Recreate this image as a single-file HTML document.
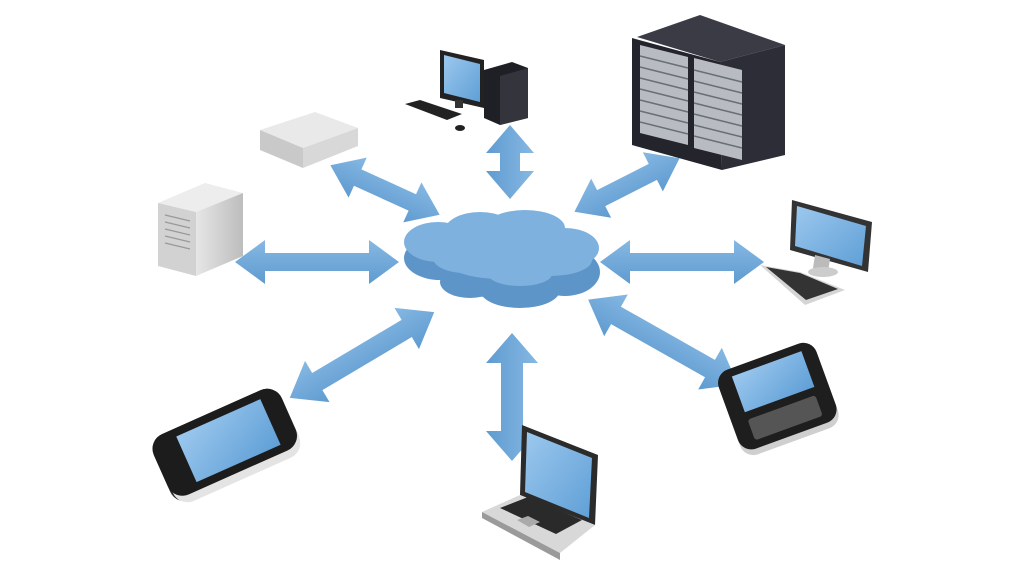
<!DOCTYPE html>
<html><head><meta charset="utf-8"><style>html,body{margin:0;padding:0;background:#fff}svg{display:block}</style></head>
<body>
<svg width="1024" height="576" viewBox="0 0 1024 576" xmlns="http://www.w3.org/2000/svg">
<defs>
<linearGradient id="ar" x1="0" y1="0" x2="0" y2="1"><stop offset="0" stop-color="#86b8e3"/><stop offset="1" stop-color="#5f9bd0"/></linearGradient>
<linearGradient id="scr" x1="0" y1="0" x2="1" y2="1"><stop offset="0" stop-color="#9cc8ee"/><stop offset="1" stop-color="#5f9fd6"/></linearGradient>
<linearGradient id="wh" x1="0" y1="0" x2="1" y2="0"><stop offset="0" stop-color="#e6e6e6"/><stop offset="1" stop-color="#bdbdbd"/></linearGradient>
</defs>
<rect width="1024" height="576" fill="#fff"/>
<g fill="url(#ar)">
<g transform="translate(510,162) rotate(90)"><path d="M-37,0 L-9,-24 L-9,-10 L9,-10 L9,-24 L37,0 L9,24 L9,10 L-9,10 L-9,24 Z"/></g>
<g transform="translate(385,190) rotate(24.4)"><path d="M-60,0 L-30,-22 L-30,-9 L30,-9 L30,-22 L60,0 L30,22 L30,9 L-30,9 L-30,22 Z"/></g>
<g transform="translate(317,262)"><path d="M-82,0 L-52,-22 L-52,-9 L52,-9 L52,-22 L82,0 L52,22 L52,9 L-52,9 L-52,22 Z"/></g>
<g transform="translate(627,185) rotate(-27)"><path d="M-59,0 L-29,-22 L-29,-9 L29,-9 L29,-22 L59,0 L29,22 L29,9 L-29,9 L-29,22 Z"/></g>
<g transform="translate(682,262)"><path d="M-82,0 L-52,-22 L-52,-9 L52,-9 L52,-22 L82,0 L52,22 L52,9 L-52,9 L-52,22 Z"/></g>
<g transform="translate(362,355) rotate(-30.7)"><path d="M-84,0 L-52,-24 L-52,-10 L52,-10 L52,-24 L84,0 L52,24 L52,10 L-52,10 L-52,24 Z"/></g>
<g transform="translate(512,397) rotate(90)"><path d="M-64,0 L-34,-26 L-34,-11 L34,-11 L34,-26 L64,0 L34,26 L34,11 L-34,11 L-34,26 Z"/></g>
<g transform="translate(663,342) rotate(29.5)"><path d="M-86,0 L-54,-24 L-54,-10 L54,-10 L54,-24 L86,0 L54,24 L54,10 L-54,10 L-54,24 Z"/></g>
</g>
<!-- cloud -->
<g fill="#5d95c8">
<ellipse cx="440" cy="258" rx="36" ry="22"/><ellipse cx="500" cy="268" rx="60" ry="30"/><ellipse cx="565" cy="272" rx="35" ry="24"/><ellipse cx="520" cy="290" rx="40" ry="18"/><ellipse cx="470" cy="282" rx="30" ry="16"/>
</g>
<g fill="#7fb1df">
<ellipse cx="438" cy="242" rx="34" ry="20"/><ellipse cx="480" cy="232" rx="36" ry="20"/><ellipse cx="525" cy="228" rx="40" ry="18"/><ellipse cx="565" cy="248" rx="34" ry="20"/><ellipse cx="500" cy="255" rx="60" ry="24"/><ellipse cx="550" cy="260" rx="42" ry="16"/><ellipse cx="465" cy="258" rx="32" ry="15"/><ellipse cx="520" cy="274" rx="32" ry="12"/>
</g>
<!-- server rack -->
<polygon points="637,37 700,15 785,45 720,62" fill="#3a3b45"/>
<polygon points="632,38 720,62 722,170 632,145" fill="#23242c"/>
<polygon points="720,62 785,45 785,155 722,170" fill="#2c2d36"/>
<polygon points="640,45 688,57 688,145 640,133" fill="#b8bcc2"/>
<polygon points="694,58 742,70 742,160 694,148" fill="#b8bcc2"/>
<g stroke="#6a6e75" stroke-width="1.5">
<line x1="640" y1="56" x2="688" y2="68"/><line x1="640" y1="67" x2="688" y2="79"/><line x1="640" y1="78" x2="688" y2="90"/><line x1="640" y1="89" x2="688" y2="101"/><line x1="640" y1="100" x2="688" y2="112"/><line x1="640" y1="111" x2="688" y2="123"/><line x1="640" y1="122" x2="688" y2="134"/>
<line x1="694" y1="70" x2="742" y2="82"/><line x1="694" y1="81" x2="742" y2="93"/><line x1="694" y1="92" x2="742" y2="104"/><line x1="694" y1="103" x2="742" y2="115"/><line x1="694" y1="114" x2="742" y2="126"/><line x1="694" y1="125" x2="742" y2="137"/><line x1="694" y1="136" x2="742" y2="148"/>
</g>
<!-- PC top -->
<polygon points="440,50 484,60 484,108 440,98" fill="#222"/>
<polygon points="444,55 480,64 480,102 444,93" fill="url(#scr)"/>
<rect x="455" y="100" width="8" height="8" fill="#333"/>
<polygon points="484,70 512,62 528,68 528,118 500,125 484,118" fill="#1f2026"/>
<polygon points="500,76 528,68 528,118 500,125" fill="#33343c"/>
<polygon points="405,104 420,100 462,114 447,120" fill="#222"/>
<ellipse cx="460" cy="128" rx="5" ry="3" fill="#222"/>
<!-- white box -->
<polygon points="260,130 315,112 358,128 303,148" fill="#e9e9e9"/>
<polygon points="260,130 303,148 303,168 260,150" fill="#c9c9c9"/>
<polygon points="303,148 358,128 358,146 303,168" fill="#d8d8d8"/>
<!-- tower -->
<polygon points="158,203 205,183 243,193 196,212" fill="#ededed"/>
<polygon points="158,203 196,212 196,276 158,266" fill="#d2d2d2"/>
<polygon points="196,212 243,193 243,256 196,276" fill="url(#wh)"/>
<g stroke="#999" stroke-width="1.2"><line x1="165" y1="215" x2="190" y2="221"/><line x1="165" y1="222" x2="190" y2="228"/><line x1="165" y1="229" x2="190" y2="235"/><line x1="165" y1="236" x2="190" y2="242"/><line x1="165" y1="243" x2="190" y2="249"/></g>
<!-- monitor right -->
<polygon points="792,200 872,222 868,272 790,250" fill="#333"/>
<polygon points="797,206 866,226 862,266 795,246" fill="url(#scr)"/>
<polygon points="815,255 830,259 828,272 813,268" fill="#bbb"/>
<ellipse cx="823" cy="272" rx="15" ry="5" fill="#ccc"/>
<polygon points="760,265 800,272 845,290 805,305" fill="#d5d5d5"/>
<polygon points="766,267 800,273 838,289 806,300" fill="#333"/>
<!-- phone bottom-left -->
<g transform="translate(226,445) rotate(-24)">
<rect x="-70" y="-36" width="140" height="72" rx="16" fill="#2a2a2a"/>
<rect x="-68" y="-28" width="138" height="66" rx="16" fill="#e4e4e4"/>
<rect x="-70" y="-36" width="140" height="66" rx="16" fill="#1c1c1c"/>
<rect x="-42" y="-28" width="92" height="50" fill="url(#scr)"/>
</g>
<!-- laptop -->
<polygon points="522,425 598,455 595,525 520,495" fill="#2b2b2b"/>
<polygon points="527,432 592,458 589,518 525,492" fill="url(#scr)"/>
<polygon points="482,512 520,495 595,525 560,553" fill="#d8d8d8"/>
<polygon points="482,512 560,553 560,560 482,518" fill="#9a9a9a"/>
<polygon points="500,508 528,497 582,520 556,534" fill="#2a2a2a"/>
<polygon points="517,520 528,516 540,522 529,527" fill="#aaa"/>
<!-- blackberry -->
<g transform="translate(778,398) rotate(-20)">
<rect x="-52" y="-40" width="104" height="86" rx="14" fill="#cfcfcf"/>
<rect x="-52" y="-44" width="104" height="84" rx="14" fill="#1e1e1e"/>
<rect x="-36" y="-36" width="74" height="38" fill="url(#scr)"/>
<g fill="#555"><rect x="-36" y="10" width="72" height="22" rx="3"/></g>
</g>
</svg>
</body></html>
